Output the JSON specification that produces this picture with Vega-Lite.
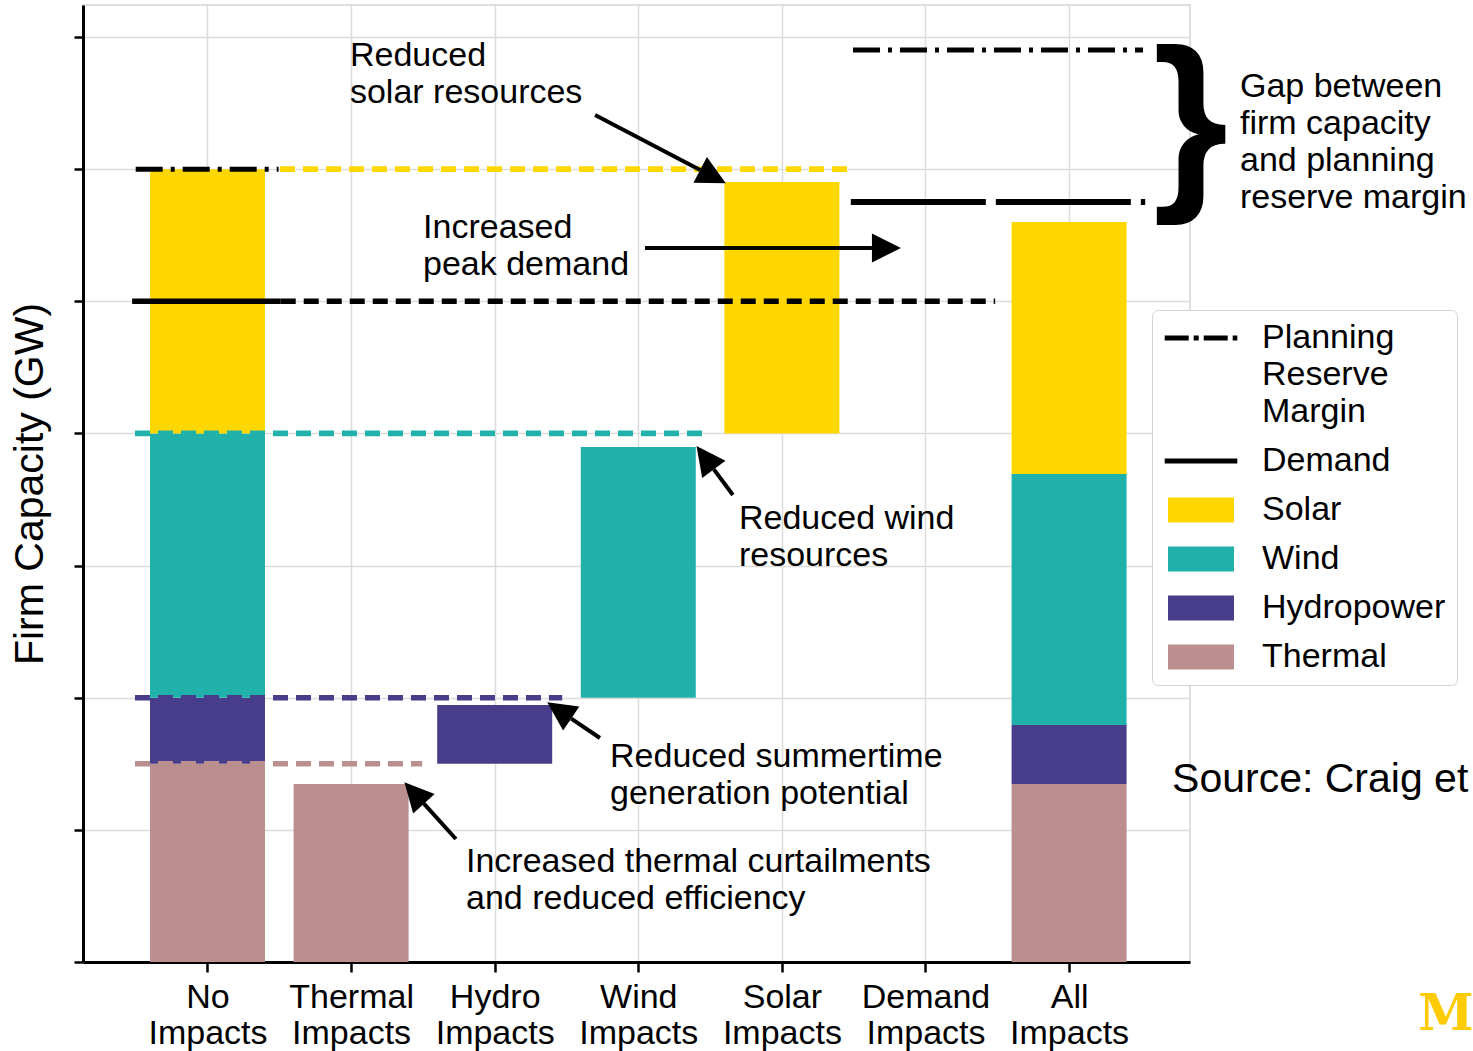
{
  "$schema": "https://vega.github.io/schema/vega-lite/v6.json",
  "width": 1107,
  "height": 957,
  "autosize": {"type": "none"},
  "padding": {"left": 83, "top": 5, "right": 283, "bottom": 89},
  "background": "white",
  "config": {
    "font": "Liberation Sans",
    "view": {"stroke": "#d4d4d4", "strokeWidth": 1.5},
    "axis": {
      "domainColor": "black", "domainWidth": 3, "tickColor": "black", "tickWidth": 2.5,
      "gridColor": "#dcdcdc", "gridWidth": 1.5, "labelColor": "black", "titleColor": "black",
      "labelFont": "Liberation Sans", "titleFont": "Liberation Sans"
    }
  },
  "datasets": {
    "arrows": [
      {"x": 3.431, "y": 5.994, "x2": 2.699, "y2": 6.410},
      {"x": 4.627, "y": 5.403, "x2": 3.047, "y2": 5.403},
      {"x": 3.526, "y": 3.728, "x2": 3.659, "y2": 3.534},
      {"x": 2.533, "y": 1.842, "x2": 2.733, "y2": 1.695},
      {"x": 1.507, "y": 1.198, "x2": 1.730, "y2": 0.931}
    ]
  },
  "encoding": {
    "x": {
      "field": "x", "type": "quantitative",
      "scale": {"domain": [-0.867, 6.842], "nice": false, "zero": false, "padding": 0},
      "axis": {
        "title": null, "values": [0, 1, 2, 3, 4, 5, 6], "grid": true, "tickSize": 10,
        "labelFontSize": 34, "labelPadding": 8, "labelLineHeight": 36,
        "labelFlush": false, "labelOverlap": false,
        "labelExpr": "[['No','Impacts'],['Thermal','Impacts'],['Hydro','Impacts'],['Wind','Impacts'],['Solar','Impacts'],['Demand','Impacts'],['All','Impacts']][datum.value]"
      }
    },
    "y": {
      "field": "y", "type": "quantitative",
      "scale": {"domain": [0, 7.242], "nice": false, "zero": false, "padding": 0},
      "axis": {
        "title": "Firm Capacity (GW)", "values": [0, 1, 2, 3, 4, 5, 6, 7], "labels": false,
        "tickSize": 9, "grid": true, "titleFontSize": 41, "titleFontWeight": "normal", "titlePadding": 21
      }
    }
  },
  "layer": [
    {
      "data": {"values": [
        {"x": 0, "y": 0, "y2": 1.5, "source": "Thermal"},
        {"x": 0, "y": 1.5, "y2": 2.0, "source": "Hydropower"},
        {"x": 0, "y": 2.0, "y2": 4.0, "source": "Wind"},
        {"x": 0, "y": 4.0, "y2": 6.0, "source": "Solar"},
        {"x": 1, "y": 0, "y2": 1.347, "source": "Thermal"},
        {"x": 2, "y": 1.5, "y2": 1.945, "source": "Hydropower"},
        {"x": 3, "y": 2.0, "y2": 3.897, "source": "Wind"},
        {"x": 4, "y": 4.0, "y2": 5.903, "source": "Solar"},
        {"x": 6, "y": 0, "y2": 1.347, "source": "Thermal"},
        {"x": 6, "y": 1.347, "y2": 1.794, "source": "Hydropower"},
        {"x": 6, "y": 1.794, "y2": 3.693, "source": "Wind"},
        {"x": 6, "y": 3.693, "y2": 5.6, "source": "Solar"}
      ]},
      "mark": {"type": "bar", "width": 115},
      "encoding": {
        "y2": {"field": "y2"},
        "color": {
          "field": "source", "type": "nominal",
          "scale": {
            "domain": ["Planning Reserve Margin", "Demand", "Solar", "Wind", "Hydropower", "Thermal"],
            "range": ["#000000", "#000000", "#FFD700", "#20B2AA", "#483D8B", "#BC8F8F"]
          },
          "legend": {
            "title": null, "orient": "none", "legendX": 1069, "legendY": 305, "direction": "vertical",
            "fillColor": "white", "strokeColor": "#d3d3d3", "cornerRadius": 6, "padding": 11,
            "labelFontSize": 34, "labelColor": "black", "labelLimit": 400, "labelOffset": 44,
            "labelFont": "Liberation Sans",
            "symbolSize": 4356, "symbolOffset": 21, "rowPadding": 15,
            "labelExpr": "datum.label == 'Planning Reserve Margin' ? ['Planning','Reserve','Margin'] : datum.label",
            "encode": {
              "symbols": {"update": {
                "shape": {"signal": "datum.value == 'Planning Reserve Margin' || datum.value == 'Demand' ? 'M-1.1,0H1.1' : 'M-1,-0.38H1V0.38H-1Z'"},
                "fill": {"signal": "datum.value == 'Planning Reserve Margin' || datum.value == 'Demand' ? 'transparent' : scale('color', datum.value)"},
                "stroke": {"signal": "scale('color', datum.value)"},
                "strokeWidth": {"signal": "datum.value == 'Planning Reserve Margin' || datum.value == 'Demand' ? 5 : 0"},
                "strokeDash": {"signal": "datum.value == 'Planning Reserve Margin' ? [24,5,5,5] : [1,0]"},
                "opacity": {"value": 1}
              }},
              "labels": {"update": {"lineHeight": {"value": 37}}}
            }
          }
        }
      }
    },
    {
      "data": {"values": [
        {"source": "Planning Reserve Margin", "kind": "prm", "x": -0.5, "x2": 0.495, "y": 6.0},
        {"source": "Solar", "kind": "guide", "x": 0.505, "x2": 4.49, "y": 6.0},
        {"source": "Demand", "kind": "demand", "x": -0.525, "x2": 0.51, "y": 5.0},
        {"source": "Demand", "kind": "guide", "x": 0.51, "x2": 5.485, "y": 5.0},
        {"source": "Wind", "kind": "guide", "x": -0.505, "x2": 3.485, "y": 4.0},
        {"source": "Hydropower", "kind": "guide", "x": -0.505, "x2": 2.47, "y": 2.0},
        {"source": "Thermal", "kind": "guide", "x": -0.505, "x2": 1.495, "y": 1.5},
        {"source": "Planning Reserve Margin", "kind": "prm", "x": 4.495, "x2": 6.515, "y": 6.902},
        {"source": "Demand", "kind": "demandnew", "x": 4.48, "x2": 6.53, "y": 5.751}
      ]},
      "mark": {"type": "rule"},
      "encoding": {
        "x2": {"field": "x2"},
        "color": {
          "field": "source", "type": "nominal",
          "scale": {
            "domain": ["Planning Reserve Margin", "Demand", "Solar", "Wind", "Hydropower", "Thermal"],
            "range": ["#000000", "#000000", "#FFD700", "#20B2AA", "#483D8B", "#BC8F8F"]
          },
          "legend": null
        },
        "strokeDash": {
          "field": "kind", "type": "nominal",
          "scale": {"domain": ["prm", "demand", "guide", "demandnew"], "range": [[27, 8, 4, 8], [1, 0], [15, 8], [135, 10]]},
          "legend": null
        },
        "strokeWidth": {
          "field": "kind", "type": "nominal",
          "scale": {"domain": ["prm", "demand", "guide", "demandnew"], "range": [5, 6, 3.5, 5]},
          "legend": null
        }
      }
    },
    {
      "data": {"name": "arrows"},
      "mark": {"type": "rule", "color": "black", "strokeWidth": 4},
      "encoding": {
        "x2": {"field": "x2"},
        "y2": {"field": "y2"}
      }
    },
    {
      "data": {"name": "arrows"},
      "mark": {
        "type": "point", "shape": "M0,-2L1,0L-1,0Z", "size": 841, "filled": true,
        "color": "black", "opacity": 1,
        "angle": {"expr": "atan2(scale('y', datum.y) - scale('y', datum.y2), scale('x', datum.x) - scale('x', datum.x2)) * 180 / PI + 90"}
      }
    },
    {
      "data": {"values": [
        {"x": 0.992, "y": 6.853, "t": "Reduced\nsolar resources"},
        {"x": 1.501, "y": 5.551, "t": "Increased\npeak demand"},
        {"x": 3.701, "y": 3.349, "t": "Reduced wind\nresources"},
        {"x": 2.803, "y": 1.548, "t": "Reduced summertime\ngeneration potential"},
        {"x": 1.800, "y": 0.753, "t": "Increased thermal curtailments\nand reduced efficiency"},
        {"x": 7.190, "y": 6.625, "t": "Gap between\nfirm capacity\nand planning\nreserve margin"}
      ]},
      "mark": {"type": "text", "align": "left", "baseline": "middle", "fontSize": 34, "lineHeight": 37, "lineBreak": "\n", "color": "black"},
      "encoding": {"text": {"field": "t"}}
    },
    {
      "data": {"values": [{"x": 6.717, "y": 1.377, "t": "Source: Craig et"}]},
      "mark": {"type": "text", "align": "left", "baseline": "middle", "fontSize": 41, "color": "black"},
      "encoding": {"text": {"field": "t"}}
    },
    {
      "data": {"values": [{"x": 6.845, "y": 5.88, "t": "}"}]},
      "mark": {"type": "text", "align": "center", "baseline": "alphabetic", "fontSize": 194, "fontWeight": "bold", "color": "black"},
      "encoding": {"text": {"field": "t"}}
    },
    {
      "data": {"values": [{"x": 8.625, "y": -0.515, "t": "M"}]},
      "mark": {"type": "text", "align": "center", "baseline": "alphabetic", "font": "DejaVu Serif", "fontSize": 50, "fontWeight": "bold", "color": "#FFCB05"},
      "encoding": {"text": {"field": "t"}}
    }
  ]
}
